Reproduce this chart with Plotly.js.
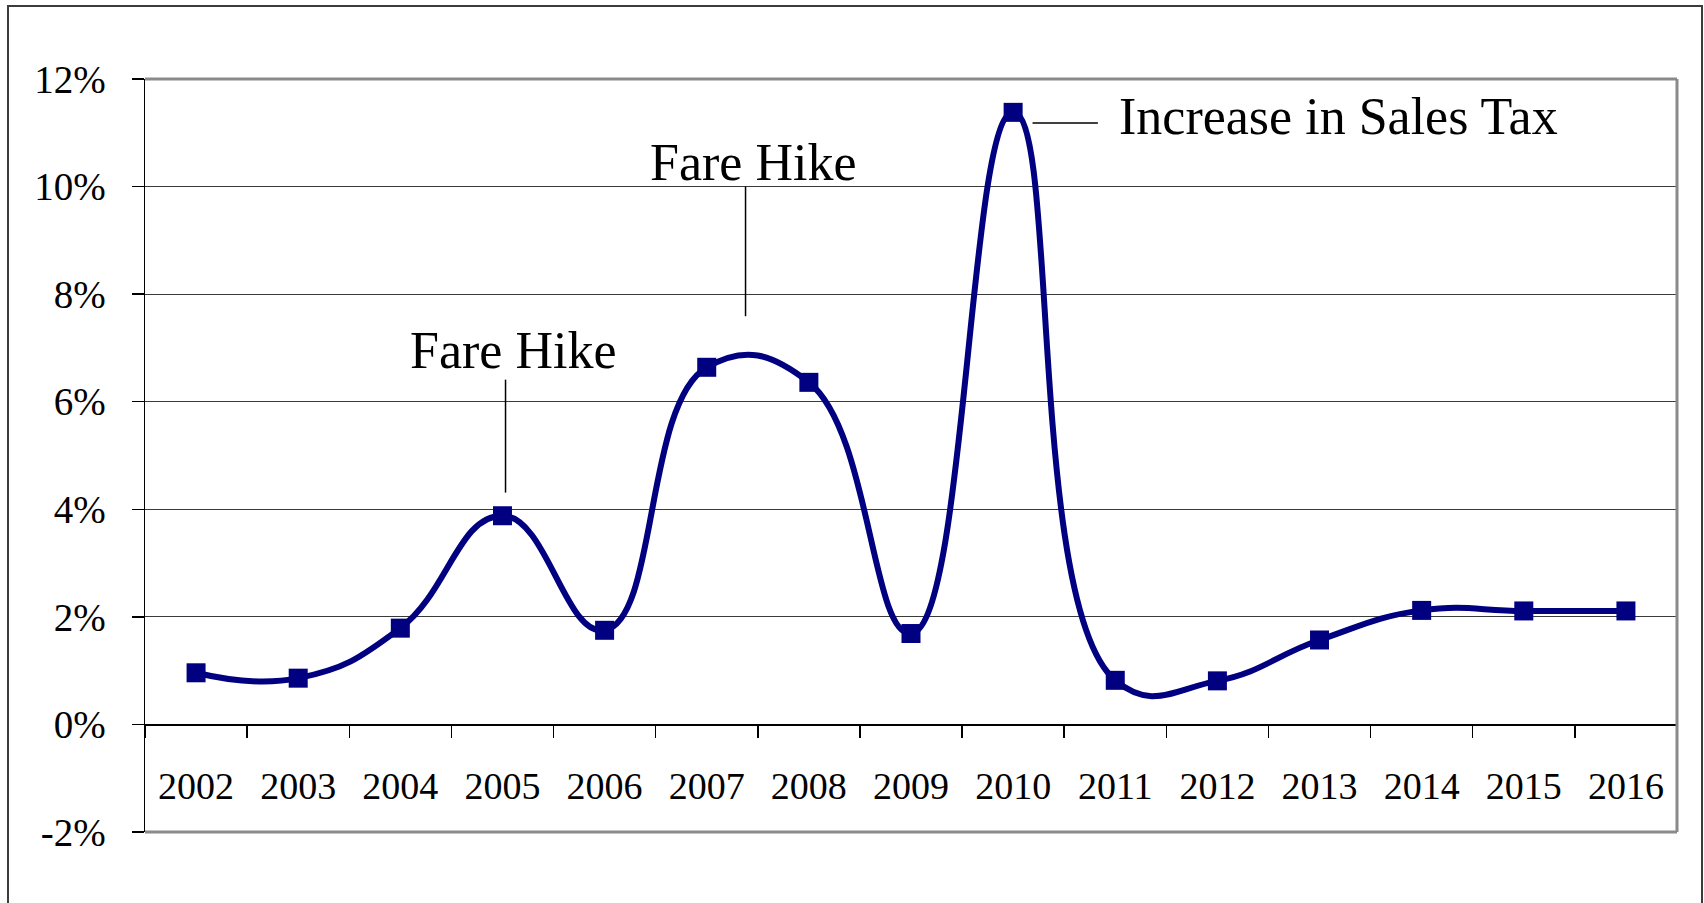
<!DOCTYPE html>
<html>
<head>
<meta charset="utf-8">
<script src="https://cdn.plot.ly/plotly-3.0.1.min.js"></script>
<style>
  html, body { margin: 0; padding: 0; background: #ffffff; overflow: hidden; }
  #chart { width: 1704px; height: 903px; }
</style>
</head>
<body>
<div id="chart"></div>
<script>
// ---- data ----
const years = ['2002', '2003', '2004', '2005', '2006', '2007', '2008', '2009',
               '2010', '2011', '2012', '2013', '2014', '2015', '2016'];
const growthPct = [0.96, 0.86, 1.79, 3.88, 1.75, 6.64, 6.36, 1.69,
                   11.38, 0.82, 0.81, 1.57, 2.12, 2.11, 2.11];
const yTickValues = [-2, 0, 2, 4, 6, 8, 10, 12];
const annotationTexts = ['Fare Hike', 'Fare Hike', 'Increase in Sales Tax'];

// ---- figure ----
const FONT = 'Liberation Serif, Times New Roman, serif';
const NAVY = '#000080';

const trace = {
  x: years,
  y: growthPct,
  type: 'scatter',
  mode: 'lines+markers',
  line: { color: NAVY, width: 6, shape: 'spline', smoothing: 1.3 },
  marker: { symbol: 'square', size: 19, color: NAVY },
  hoverinfo: 'x+y',
  showlegend: false
};

const layout = {
  width: 1704,
  height: 903,
  margin: { l: 145, r: 27, t: 79, b: 71, pad: 0 },
  paper_bgcolor: '#ffffff',
  plot_bgcolor: '#ffffff',
  font: { family: FONT, size: 38, color: '#000000' },
  showlegend: false,
  xaxis: {
    type: 'category',
    categoryorder: 'array',
    categoryarray: years,
    range: [-0.5, years.length - 0.5],
    anchor: 'free',
    position: 2 / 14,
    showline: true,
    linecolor: '#000000',
    linewidth: 1.5,
    ticks: 'outside',
    tickson: 'boundaries',
    ticklen: 12,
    tickwidth: 1.5,
    tickcolor: '#000000',
    showgrid: false,
    zeroline: false,
    ticklabelstandoff: 27,
    tickfont: { family: FONT, size: 38, color: '#000000' },
    fixedrange: true
  },
  yaxis: {
    range: [-2, 12],
    tickvals: yTickValues,
    ticktext: yTickValues.map(v => v + '%'),
    showline: true,
    linecolor: '#000000',
    linewidth: 1.5,
    ticks: 'outside',
    ticklen: 12,
    tickwidth: 1.5,
    tickcolor: '#000000',
    showgrid: true,
    gridcolor: '#3a3a3a',
    gridwidth: 1,
    zeroline: false,
    ticklabelstandoff: 18,
    tickfont: { family: FONT, size: 39, color: '#000000' },
    fixedrange: true
  },
  shapes: [
    { type: 'line', xref: 'paper', yref: 'paper', x0: 0, x1: 1, y0: 1, y1: 1,
      line: { color: '#8a8a8a', width: 3 }, layer: 'above' },
    { type: 'line', xref: 'paper', yref: 'paper', x0: 1, x1: 1, y0: 0, y1: 1,
      line: { color: '#8a8a8a', width: 3 }, layer: 'above' },
    { type: 'line', xref: 'paper', yref: 'paper', x0: 0, x1: 1, y0: 0, y1: 0,
      line: { color: '#8a8a8a', width: 3 }, layer: 'above' },
    { type: 'rect', xref: 'paper', yref: 'paper',
      x0: (8 - 145) / 1532, x1: (1702 - 145) / 1532,
      y0: -0.2, y1: (832 - 6) / 753,
      line: { color: '#3c3c3c', width: 2 }, fillcolor: 'rgba(0,0,0,0)', layer: 'above' },
    { type: 'line', xref: 'x', yref: 'y', x0: 3.03, x1: 3.03, y0: 4.31, y1: 6.41,
      line: { color: '#000000', width: 1.5 } },
    { type: 'line', xref: 'x', yref: 'y', x0: 5.38, x1: 5.38, y0: 7.59, y1: 10.0,
      line: { color: '#000000', width: 1.5 } },
    { type: 'line', xref: 'x', yref: 'y', x0: 8.19, x1: 8.83, y0: 11.18, y1: 11.18,
      line: { color: '#000000', width: 1.5 } }
  ],
  annotations: [
    { x: 3.10, y: 6.95, xref: 'x', yref: 'y', text: annotationTexts[0], showarrow: false,
      xanchor: 'center', yanchor: 'middle', font: { family: FONT, size: 52, color: '#000000' } },
    { x: 5.45, y: 10.45, xref: 'x', yref: 'y', text: annotationTexts[1], showarrow: false,
      xanchor: 'center', yanchor: 'middle', font: { family: FONT, size: 52, color: '#000000' } },
    { x: 9.02, y: 11.3, xref: 'x', yref: 'y', text: annotationTexts[2], showarrow: false,
      xanchor: 'left', yanchor: 'middle', font: { family: FONT, size: 52, color: '#000000' } }
  ]
};

Plotly.newPlot('chart', [trace], layout, { displayModeBar: false, staticPlot: true });
</script>
</body>
</html>
